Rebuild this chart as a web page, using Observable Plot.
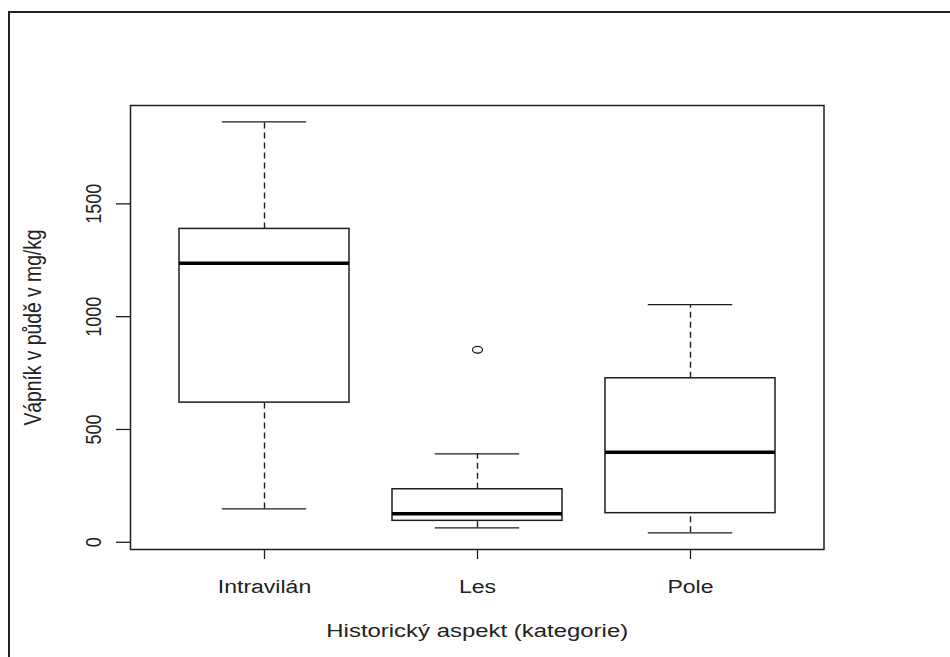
<!DOCTYPE html>
<html><head><meta charset="utf-8">
<script src="https://cdn.jsdelivr.net/npm/d3@7"></script>
<script src="https://cdn.jsdelivr.net/npm/@observablehq/plot@0.6"></script>
<style>
html,body{margin:0;padding:0;background:#fff;overflow:hidden;}
#wrap{position:relative;width:950px;height:657px;overflow:hidden;}
#wrap svg{position:absolute;left:0;top:0;}
#border{position:absolute;left:8px;top:11px;width:980px;height:720px;border:2px solid #222;box-sizing:border-box;pointer-events:none;}
</style></head><body><div id="wrap"></div>
<script>
const categories = ["Intravilán", "Les", "Pole"];
const whiskerLow  = [148, 64, 42];
const q1          = [619, 95, 129];
const median      = [1237, 126, 399];
const q3          = [1389, 235, 727];
const whiskerHigh = [1863, 392, 1053];
const outlierCategory = ["Les"];
const outlierValue    = [853];
const yTicks = [0, 500, 1000, 1500];
const yDomain = [-32, 1936];
const xTitle = "Historický aspekt (kategorie)";
const yTitle = "Vápník v půdě v mg/kg";

const boxes = categories.map((c, i) => ({c, lo: whiskerLow[i], q1: q1[i], med: median[i], q3: q3[i], hi: whiskerHigh[i]}));
const outliers = outlierCategory.map((c, i) => ({c, v: outlierValue[i]}));

const ink = "#1e1e1e";
const txt = "#222";
const font = "'Liberation Sans', Arial, sans-serif";

const ellipse = {
  draw(ctx) {
    const rx = 5, ry = 3.4, k = 0.5523;
    ctx.moveTo(rx, 0);
    ctx.bezierCurveTo(rx, ry * k, rx * k, ry, 0, ry);
    ctx.bezierCurveTo(-rx * k, ry, -rx, ry * k, -rx, 0);
    ctx.bezierCurveTo(-rx, -ry * k, -rx * k, -ry, 0, -ry);
    ctx.bezierCurveTo(rx * k, -ry, rx, -ry * k, rx, 0);
    ctx.closePath();
  }
};

const capInset = 42.8;

const chart = Plot.plot({
  width: 950,
  height: 657,
  marginLeft: 130,
  marginRight: 126.5,
  marginTop: 105,
  marginBottom: 108,
  style: {fontFamily: font, background: "transparent"},
  x: {type: "band", domain: categories, paddingInner: 0.2, paddingOuter: 0.2204, align: 0.5, axis: null},
  y: {domain: yDomain, axis: null},
  marks: [
    Plot.ruleX(boxes, {x: "c", y1: "q3", y2: "hi", stroke: ink, strokeWidth: 1.4, strokeDasharray: "6,4"}),
    Plot.ruleX(boxes, {x: "c", y1: "lo", y2: "q1", stroke: ink, strokeWidth: 1.4, strokeDasharray: "6,4"}),
    Plot.tickY(boxes, {x: "c", y: "hi", stroke: ink, strokeWidth: 1.3, insetLeft: capInset, insetRight: capInset}),
    Plot.tickY(boxes, {x: "c", y: "lo", stroke: ink, strokeWidth: 1.3, insetLeft: capInset, insetRight: capInset}),
    Plot.barY(boxes, {x: "c", y1: "q1", y2: "q3", fill: "white", stroke: ink, strokeWidth: 1.5}),
    Plot.tickY(boxes, {x: "c", y: "med", stroke: "#000", strokeWidth: 3.5}),
    Plot.dot(outliers, {x: "c", y: "v", symbol: ellipse, r: 4, fill: "none", stroke: ink, strokeWidth: 1.3}),
    Plot.frame({stroke: ink, strokeWidth: 1.5}),
    Plot.axisY({ticks: yTicks, tickSize: 14, tickFormat: () => "", label: null, stroke: ink, strokeWidth: 1.3}),
    Plot.axisX({tickSize: 10, tickFormat: () => "", label: null, stroke: ink, strokeWidth: 1.3}),
    Plot.text(yTicks, {y: d => d, text: d => String(d), frameAnchor: "left", dx: -30, rotate: -90,
      textAnchor: "middle", lineAnchor: "bottom", fontSize: 18, fill: txt}),
    Plot.text(categories, {x: d => d, text: d => d, frameAnchor: "bottom", dy: 43,
      textAnchor: "middle", lineAnchor: "bottom", fontSize: 18, fill: txt}),
    Plot.text([xTitle], {text: d => d, frameAnchor: "bottom", dy: 87,
      textAnchor: "middle", lineAnchor: "bottom", fontSize: 18.7, fill: txt}),
    Plot.text([yTitle], {text: d => d, frameAnchor: "left", dx: -90, rotate: -90,
      textAnchor: "middle", lineAnchor: "bottom", fontSize: 19.3, fill: txt})
  ]
});

const wrap = document.getElementById("wrap");
wrap.appendChild(chart);
const border = document.createElement("div");
border.id = "border";
wrap.appendChild(border);

const labelTexts = new Set([...categories, xTitle, yTitle, ...yTicks.map(String)]);
chart.querySelectorAll("text").forEach(t => {
  const content = t.textContent;
  if (!labelTexts.has(content)) return;
  let tr = t.getAttribute("transform") || "";
  const x = t.getAttribute("x"), y = t.getAttribute("y");
  let pre = "";
  if (x !== null && x !== "" && !isNaN(+x)) { pre += `translate(${+x},0) `; t.removeAttribute("x"); }
  if (y !== null && y !== "" && !isNaN(+y)) { pre += `translate(0,${+y}) `; t.removeAttribute("y"); }
  const rotated = /rotate/.test(tr);
  t.setAttribute("transform", pre + tr + (rotated ? " scale(1,1.25)" : " scale(1.28,1)"));
});
</script>
</body></html>
